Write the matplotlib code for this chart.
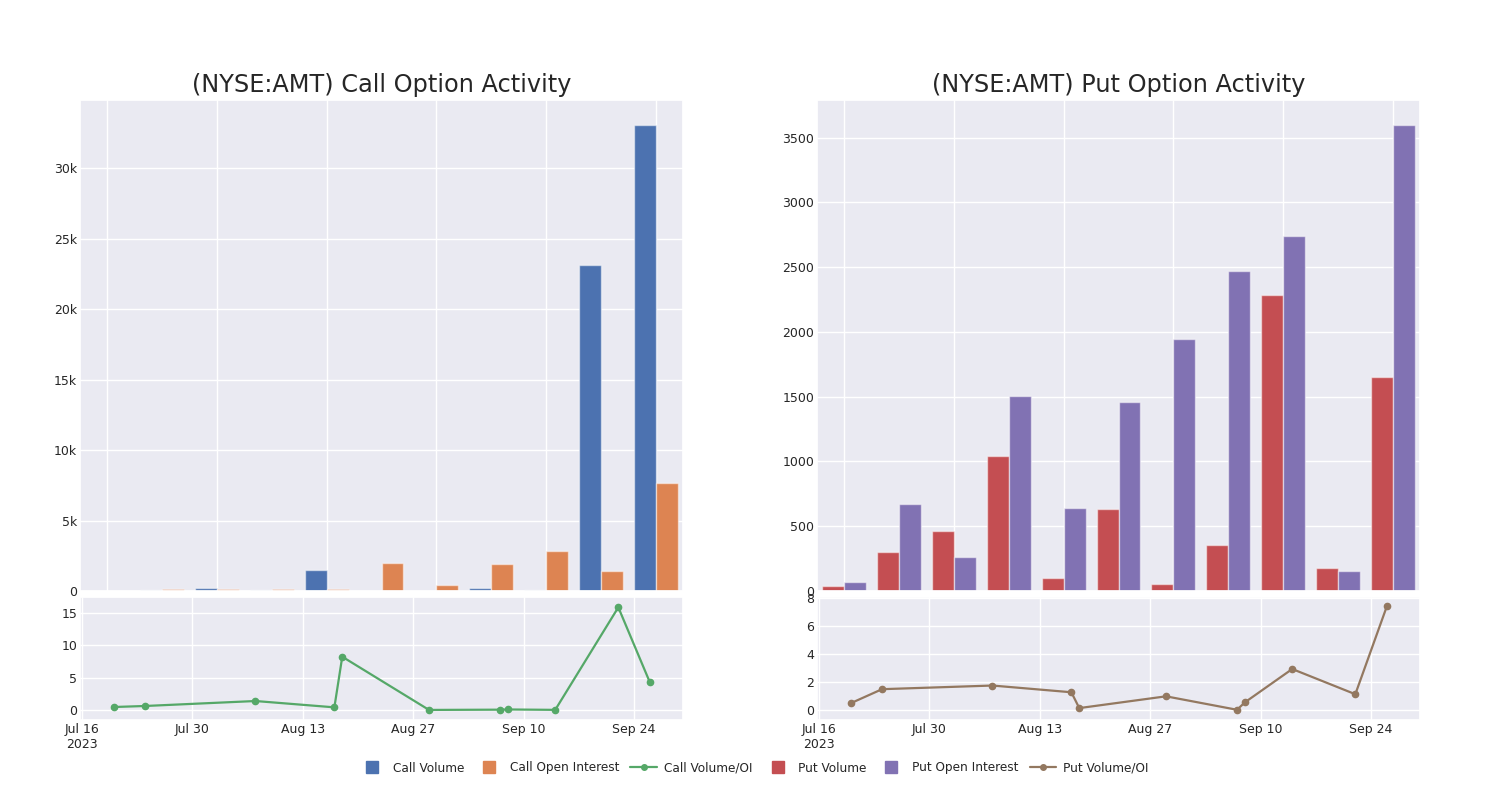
import matplotlib
matplotlib.use("Agg")
import matplotlib.pyplot as plt
import matplotlib.dates as mdates
from matplotlib.lines import Line2D
from matplotlib.ticker import FuncFormatter
import seaborn as sns
import numpy as np
import pandas as pd

# ---------------- data ----------------
dates = pd.to_datetime(['2023-07-20', '2023-07-24', '2023-08-07', '2023-08-17',
                        '2023-08-18', '2023-08-29', '2023-09-07', '2023-09-08',
                        '2023-09-14', '2023-09-22', '2023-09-26'])

call_volume = [10, 90, 210, 50, 1470, 30, 20, 230, 60, 23150, 33080]
call_oi = [20, 140, 140, 120, 175, 2020, 450, 1950, 2820, 1440, 7660]
call_ratio = [0.46, 0.62, 1.39, 0.41, 8.25, 0.01, 0.05, 0.08, 0.02, 15.9, 4.28]

put_volume = [36, 298, 460, 1040, 101, 630, 56, 358, 2286, 178, 1653]
put_oi = [70, 671, 261, 1506, 641, 1461, 1946, 2472, 2742, 158, 3600]
put_ratio = [0.48, 1.49, 1.75, 1.27, 0.14, 0.98, 0.02, 0.55, 2.93, 1.13, 7.41]

date_ticks = pd.to_datetime(['2023-07-16', '2023-07-30', '2023-08-13',
                             '2023-08-27', '2023-09-10', '2023-09-24'])
date_tick_labels = ['Jul 16\n2023', 'Jul 30', 'Aug 13', 'Aug 27', 'Sep 10', 'Sep 24']

titles = ['(NYSE:AMT) Call Option Activity', '(NYSE:AMT) Put Option Activity']

# ---------------- style ----------------
sns.set_theme(style='darkgrid')
plt.rcParams['font.family'] = ['DejaVu Sans']
TXT = '#262626'

BLUE, ORANGE, GREEN = '#4C72B0', '#DD8452', '#55A868'
RED, PURPLE, BROWN = '#C44E52', '#8172B3', '#937860'

fig = plt.figure(figsize=(15, 8), dpi=100)

W = 1500.0
H = 800.0


def rect(x0, y0, x1, y1):
    return [x0 / W, 1 - y1 / H, (x1 - x0) / W, (y1 - y0) / H]


panels = [
    dict(x0=80, x1=683, vol=call_volume, oi=call_oi, ratio=call_ratio,
         c1=BLUE, c2=ORANGE, c3=GREEN, title=titles[0],
         ylim_top=(0, 34850), ylim_bot=(-1.55, 17.5),
         yt_top=[0, 5000, 10000, 15000, 20000, 25000, 30000],
         yt_bot=[0, 5, 10, 15], kfmt=True),
    dict(x0=817, x1=1420, vol=put_volume, oi=put_oi, ratio=put_ratio,
         c1=RED, c2=PURPLE, c3=BROWN, title=titles[1],
         ylim_top=(0, 3790), ylim_bot=(-0.71, 8.07),
         yt_top=[0, 500, 1000, 1500, 2000, 2500, 3000, 3500],
         yt_bot=[0, 2, 4, 6, 8], kfmt=False),
]

t0 = pd.Timestamp('2023-07-16')
xl_dates = (t0 - pd.Timedelta(days=0.25), t0 + pd.Timedelta(days=76.2))

for p in panels:
    axt = fig.add_axes(rect(p['x0'], 100, p['x1'], 591))
    axb = fig.add_axes(rect(p['x0'], 597, p['x1'], 720))

    x = np.arange(len(p['vol']))
    w = 0.4
    axt.bar(x - w / 2, p['vol'], width=w, color=p['c1'],
            edgecolor=(1, 1, 1, 0.5), linewidth=1.0)
    axt.bar(x + w / 2, p['oi'], width=w, color=p['c2'],
            edgecolor=(1, 1, 1, 0.5), linewidth=1.0)
    axt.set_xlim(-0.5, 10.5)
    axt.set_ylim(*p['ylim_top'])
    axt.set_xticks([0, 2, 4, 6, 8, 10])
    axt.set_xticklabels([])
    axt.set_yticks(p['yt_top'])
    if p['kfmt']:
        axt.yaxis.set_major_formatter(FuncFormatter(
            lambda v, pos: '0' if v == 0 else f'{int(v / 1000)}k'))
    axt.tick_params(axis='both', length=0, labelsize=9, labelcolor=TXT, pad=2)
    axt.set_title(p['title'], fontsize=17.3, color=TXT, pad=6)

    axb.plot(mdates.date2num(dates), p['ratio'], color=p['c3'], marker='o',
             markersize=4.5, linewidth=1.6)
    axb.set_xlim(mdates.date2num(xl_dates[0]), mdates.date2num(xl_dates[1]))
    axb.set_ylim(*p['ylim_bot'])
    axb.set_xticks(mdates.date2num(date_ticks))
    axb.set_xticklabels(date_tick_labels)
    axb.set_yticks(p['yt_bot'])
    axb.tick_params(axis='both', length=0, labelsize=9, labelcolor=TXT, pad=2)

handles = [
    Line2D([], [], linestyle='none', marker='s', markersize=8, color=BLUE),
    Line2D([], [], linestyle='none', marker='s', markersize=8, color=ORANGE),
    Line2D([], [], color=GREEN, marker='o', markersize=4, linewidth=1.6),
    Line2D([], [], linestyle='none', marker='s', markersize=8, color=RED),
    Line2D([], [], linestyle='none', marker='s', markersize=8, color=PURPLE),
    Line2D([], [], color=BROWN, marker='o', markersize=4, linewidth=1.6),
]
labels = ['Call Volume', 'Call Open Interest', 'Call Volume/OI',
          'Put Volume', 'Put Open Interest', 'Put Volume/OI']
leg = fig.legend(handles, labels, loc='center', bbox_to_anchor=(754 / W, 1 - 768 / H),
                 ncol=6, frameon=False, fontsize=8.7, handlelength=2.2,
                 columnspacing=0.95, handletextpad=0.6)
for t in leg.get_texts():
    t.set_color(TXT)

fig.savefig('out.png', dpi=100)
